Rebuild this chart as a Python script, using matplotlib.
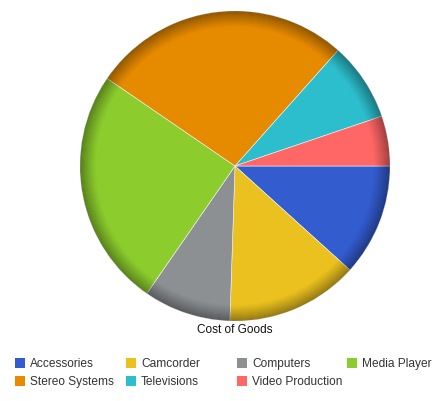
import numpy as np
import matplotlib
matplotlib.use('Agg')
import matplotlib.pyplot as plt
from matplotlib.patches import Wedge, Rectangle

categories = ['Accessories', 'Camcorder', 'Computers', 'Media Player',
              'Stereo Systems', 'Televisions', 'Video Production']
values = [11.7, 13.8, 9.1, 24.9, 27.0, 8.2, 5.2]
colors = ['#335CCF', '#EBC11F', '#8C9093', '#8CCD2D',
          '#E68A00', '#2DBECD', '#FF6666']
title = 'Cost of Goods'

W, H = 447, 402
fig = plt.figure(figsize=(W / 100, H / 100), dpi=100)
fig.patch.set_facecolor('white')

# pie centre (235, 167) px, radius 155 px
cx, cy, R = 235, 167, 155
box = 162
ax = fig.add_axes([(cx - box) / W, (H - cy - box) / H, 2 * box / W, 2 * box / H])

wedges, _ = ax.pie(values, colors=colors, radius=R, startangle=0, counterclock=False,
                   center=(0, 0), frame=True,
                   wedgeprops=dict(edgecolor='#f4f4f4', linewidth=0.4))
ax.set_xlim(-box, box)
ax.set_ylim(-box, box)
ax.set_aspect('equal')
ax.axis('off')

# bevelled rim: darker rings toward the edge
n = 16
for i in range(n):
    r_out = R - i * 1.0
    a = 0.38 * (1 - i / n) ** 1.2
    ax.add_patch(Wedge((0, 0), r_out, 0, 360, width=1.0, facecolor='black',
                       alpha=a, edgecolor='none'))

fig.text(cx / W, 1 - 330 / H, title, ha='center', va='center',
         fontsize=8.5, color='#111111', family='Liberation Sans')

col_x = [20, 131, 242, 352]
row_y = [364, 382]
for i, (name, col) in enumerate(zip(categories, colors)):
    r, c = divmod(i, 4)
    x, y = col_x[c], row_y[r]
    fig.patches.append(Rectangle(((x - 5) / W, 1 - (y + 5) / H), 10 / W, 10 / H,
                                 facecolor=col, edgecolor='none',
                                 transform=fig.transFigure, figure=fig))
    fig.text((x + 10) / W, 1 - y / H, name, ha='left', va='center',
             fontsize=8.6, color='#333333', family='Liberation Sans')

fig.savefig('out.png', dpi=100, facecolor='white')
